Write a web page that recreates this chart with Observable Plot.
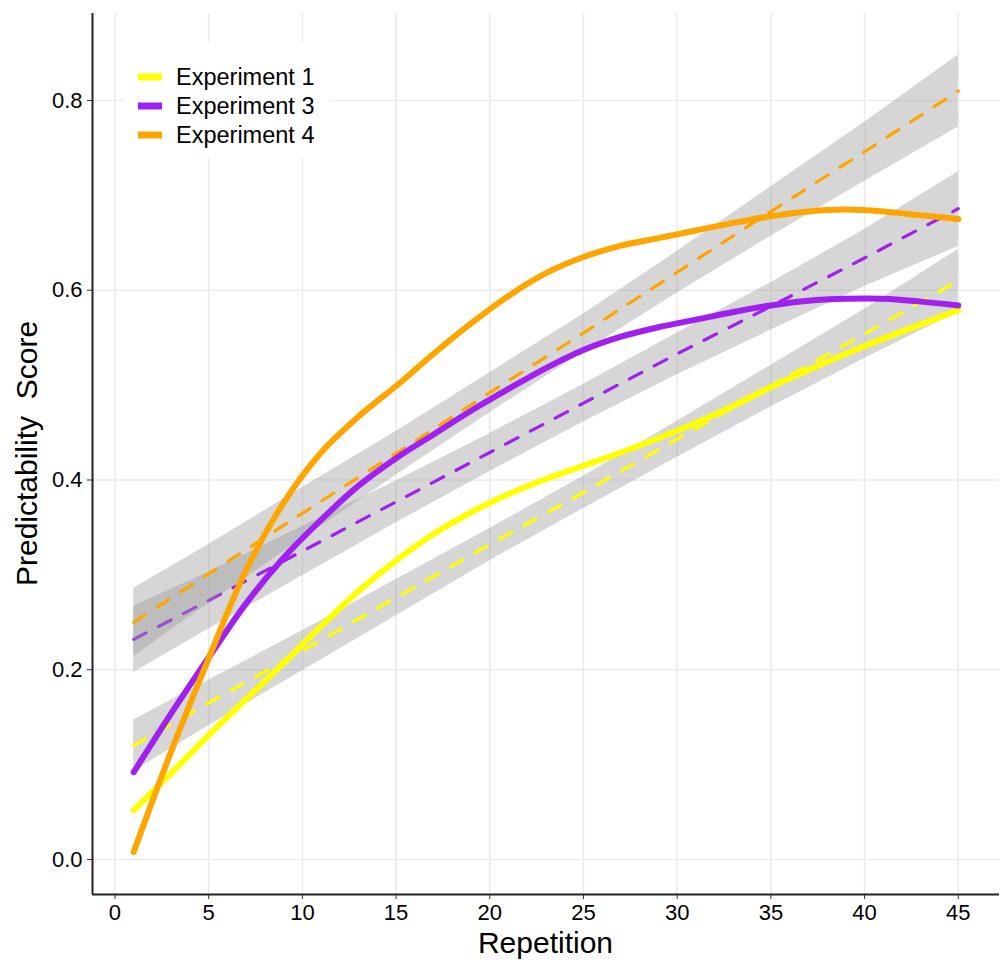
<!DOCTYPE html>
<html>
<head>
<meta charset="utf-8">
<script src="https://cdn.jsdelivr.net/npm/d3@7"></script>
<script src="https://cdn.jsdelivr.net/npm/@observablehq/plot@0.6"></script>
<style>
  html, body { margin: 0; padding: 0; background: white; }
  #chart svg { display: block; }
</style>
</head>
<body>
<div id="chart"></div>
<script>
// ---- Data ----
const experiments = ["Experiment 1", "Experiment 3", "Experiment 4"];
const colors = ["#FFFF00", "#A020F0", "#FFA500"];

// Linear fits (dashed) with confidence ribbons
const lmX = [1, 5, 10, 15, 20, 25, 30, 35, 40, 45];
const exp1Fit   = [0.120, 0.165, 0.220, 0.276, 0.332, 0.387, 0.443, 0.499, 0.554, 0.610];
const exp1Lower = [0.093, 0.141, 0.199, 0.257, 0.315, 0.370, 0.424, 0.477, 0.528, 0.577];
const exp1Upper = [0.147, 0.189, 0.241, 0.295, 0.349, 0.404, 0.462, 0.521, 0.580, 0.643];
const exp3Fit   = [0.232, 0.273, 0.325, 0.377, 0.429, 0.481, 0.533, 0.583, 0.634, 0.686];
const exp3Lower = [0.197, 0.243, 0.299, 0.355, 0.409, 0.461, 0.511, 0.558, 0.604, 0.646];
const exp3Upper = [0.267, 0.303, 0.351, 0.399, 0.449, 0.501, 0.555, 0.608, 0.664, 0.725];
const exp4Fit   = [0.250, 0.301, 0.365, 0.428, 0.492, 0.555, 0.619, 0.683, 0.746, 0.810];
const exp4Lower = [0.214, 0.270, 0.338, 0.405, 0.471, 0.535, 0.597, 0.657, 0.715, 0.772];
const exp4Upper = [0.286, 0.332, 0.392, 0.451, 0.513, 0.575, 0.641, 0.709, 0.777, 0.848];

// Smooth (loess) curves, solid
const loessX = [1, 3, 5, 7, 9, 11, 13, 15, 17, 19, 21, 23, 25, 27, 29, 31, 33, 35, 37, 39, 41, 43, 45];
const exp1Smooth = [0.052, 0.091, 0.131, 0.169, 0.207, 0.246, 0.283, 0.315, 0.343, 0.366, 0.385, 0.401,
                    0.415, 0.429, 0.444, 0.460, 0.478, 0.498, 0.516, 0.533, 0.549, 0.564, 0.579];
const exp3Smooth = [0.092, 0.154, 0.213, 0.270, 0.318, 0.358, 0.394, 0.423, 0.448, 0.473, 0.496, 0.518,
                    0.537, 0.551, 0.561, 0.569, 0.577, 0.584, 0.589, 0.591, 0.591, 0.588, 0.584];
const exp4Smooth = [0.008, 0.114, 0.212, 0.305, 0.376, 0.429, 0.467, 0.499, 0.533, 0.565, 0.594, 0.618,
                    0.635, 0.647, 0.655, 0.663, 0.671, 0.678, 0.683, 0.685, 0.683, 0.679, 0.675];

const xTicks = [0, 5, 10, 15, 20, 25, 30, 35, 40, 45];
const yTicks = [0.0, 0.2, 0.4, 0.6, 0.8];
const xLabel = "Repetition";
const yLabel = "Predictability  Score";

// ---- Build tables ----
const fits = [exp1Fit, exp3Fit, exp4Fit];
const lowers = [exp1Lower, exp3Lower, exp4Lower];
const uppers = [exp1Upper, exp3Upper, exp4Upper];
const smooths = [exp1Smooth, exp3Smooth, exp4Smooth];

const lmTables = experiments.map((name, i) =>
  lmX.map((x, j) => ({experiment: name, x, fit: fits[i][j], lo: lowers[i][j], hi: uppers[i][j]})));
const smoothTables = experiments.map((name, i) =>
  loessX.map((x, j) => ({experiment: name, x, y: smooths[i][j]})));

const xDomain = [-1.2, 47.2];
const yDomain = [-0.0369, 0.8917];
const font = "'Liberation Sans', Arial, Helvetica, sans-serif";

const lmMarks = [];
experiments.forEach((name, i) => {
  lmMarks.push(Plot.areaY(lmTables[i], {x: "x", y1: "lo", y2: "hi", fill: "#999999", fillOpacity: 0.4}));
  lmMarks.push(Plot.line(lmTables[i], {x: "x", y: "fit", stroke: colors[i], strokeWidth: 3.2, strokeDasharray: "14,14"}));
});
const smoothMarks = experiments.map((name, i) =>
  Plot.line(smoothTables[i], {x: "x", y: "y", stroke: colors[i], strokeWidth: 6, curve: "catmull-rom"}));

const chart = Plot.plot({
  width: 1008,
  height: 966,
  marginLeft: 92,
  marginRight: 9,
  marginTop: 13,
  marginBottom: 72,
  style: {fontFamily: font, background: "white", color: "#000", overflow: "visible"},
  x: {domain: xDomain},
  y: {domain: yDomain},
  marks: [
    Plot.gridX(xTicks, {stroke: "#ebebeb", strokeOpacity: 1, strokeWidth: 1.6}),
    Plot.gridY(yTicks, {stroke: "#ebebeb", strokeOpacity: 1, strokeWidth: 1.6}),
    ...lmMarks,
    ...smoothMarks,
    Plot.axisX(xTicks, {tickSize: 5, tickPadding: 5, fontSize: 22, label: null, stroke: "#333", tickFormat: d => String(d)}),
    Plot.axisY(yTicks, {tickSize: 5, tickPadding: 5, fontSize: 22, label: null, stroke: "#333", tickFormat: d3.format(".1f")}),
    Plot.ruleX([xDomain[0]], {stroke: "#222", strokeWidth: 2}),
    Plot.ruleY([yDomain[0]], {stroke: "#222", strokeWidth: 2})
  ]
});

const svg = d3.select(chart);
// Axis titles
svg.append("text")
  .attr("x", (92 + 999) / 2).attr("y", 953)
  .attr("text-anchor", "middle")
  .attr("font-family", font).attr("font-size", 30).attr("fill", "#000")
  .text(xLabel);
svg.append("text")
  .attr("transform", `translate(37, ${(13 + 894) / 2}) rotate(-90)`)
  .attr("text-anchor", "middle")
  .attr("font-family", font).attr("font-size", 30).attr("fill", "#000")
  .text(yLabel);

// Legend
const lg = svg.append("g").attr("text-anchor", "start");
lg.append("rect").attr("x", 125).attr("y", 42).attr("width", 205).attr("height", 116).attr("fill", "white");
experiments.forEach((name, i) => {
  const cy = 77 + i * 29;
  lg.append("line").attr("x1", 138).attr("x2", 162).attr("y1", cy).attr("y2", cy)
    .attr("stroke", colors[i]).attr("stroke-width", 7);
  lg.append("text").attr("x", 176).attr("y", cy).attr("dy", "0.35em")
    .attr("text-anchor", "start")
    .attr("font-family", font).attr("font-size", 23.5).attr("fill", "#000")
    .text(name);
});

document.getElementById("chart").appendChild(chart);
</script>
</body>
</html>
